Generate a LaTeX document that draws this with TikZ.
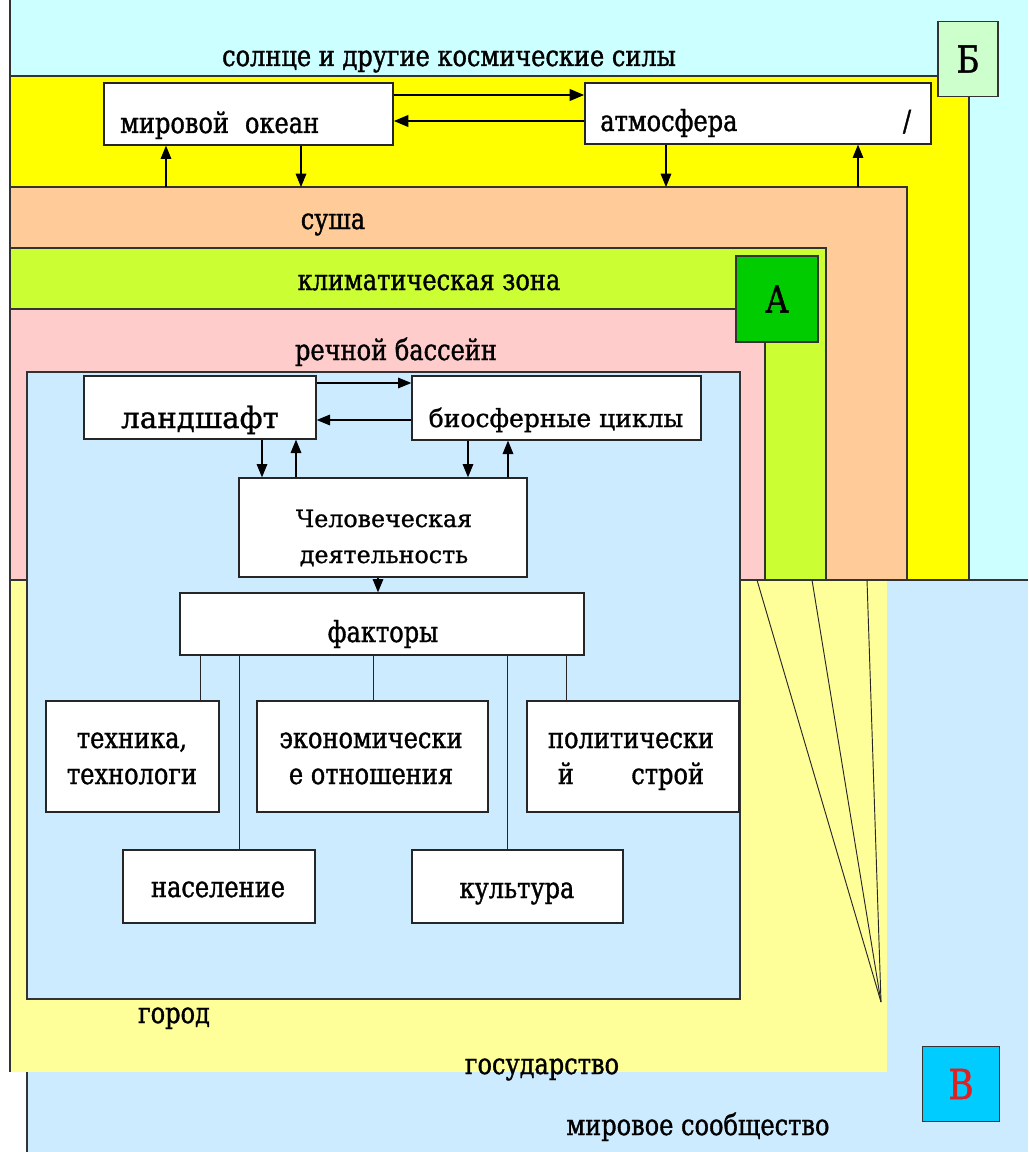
\documentclass[tikz,border=0pt]{standalone}
\usepackage{fontspec}
\setmainfont{DejaVu Serif}[FakeStretch=0.83, FakeBold=1.2]
\newfontfamily\widefont{DejaVu Serif}[FakeBold=1]
\usetikzlibrary{arrows.meta,positioning,fit}

\definecolor{skycyan}{HTML}{CCFFFF}
\definecolor{seayellow}{HTML}{FFFF00}
\definecolor{landorange}{HTML}{FFCC99}
\definecolor{climgreen}{HTML}{CCFF33}
\definecolor{riverpink}{HTML}{FFCCCC}
\definecolor{statepale}{HTML}{FFFF99}
\definecolor{worldblue}{HTML}{CCEBFF}
\definecolor{tagA}{HTML}{00CC00}
\definecolor{tagB}{HTML}{CCFFCC}
\definecolor{tagV}{HTML}{00CCFF}
\definecolor{letterred}{HTML}{DD2222}

\newcommand{\twoline}[2]{\begin{tabular}[t]{@{}c@{}}#1\\#2\end{tabular}}

\begin{document}
\begin{tikzpicture}[
    x=0.75pt, y=-0.75pt,
    every node/.style={font=\fontsize{21.75}{27}\selectfont, inner sep=0pt},
    box/.style={draw=black!85, fill=white, line width=1pt, inner sep=0pt},
    widetext/.style={font=\widefont\fontsize{18.75}{27}\selectfont},
    rim/.style={draw=black!80, line width=0.8pt},
    wire/.style={draw=black!85, line width=0.7pt},
    arr/.style={-{Triangle[length=10pt,width=8pt]}, line width=0.8pt},
    bigarr/.style={-{Triangle[length=11pt,width=8.5pt]}, line width=2.1pt},
    tag/.style={draw=black!80, line width=0.8pt, font=\fontsize{28}{32}\selectfont}
]

\useasboundingbox (0,0) rectangle (1028,1152);

% Nested regions
\fill[worldblue] (27,580) rectangle (1028,1152);
\fill[skycyan] (10,0) rectangle (1028,580);
\fill[seayellow] (10,76) rectangle (969,580);
\fill[landorange] (10,187) rectangle (907,580);
\fill[climgreen] (10,248) rectangle (826,580);
\fill[riverpink] (10,309) rectangle (765,580);
\fill[statepale] (10,580) rectangle (887,1072);

\draw[rim] (10,0) -- (10,1072);
\draw[rim] (10,76) -- (969,76) -- (969,580);
\draw[rim] (10,187) -- (907,187) -- (907,580);
\draw[rim] (10,248) -- (826,248) -- (826,580);
\draw[rim] (10,309) -- (765,309) -- (765,580);
\draw[rim] (10,580) -- (1028,580);
\draw[rim] (27,1072) -- (27,1152);

% Fan of lines in the state band
\coordinate (fan) at (881,1002);
\foreach \xx in {757,812,867} {
    \draw[wire] (\xx,580) -- (fan);
}

% City block
\filldraw[rim, fill=worldblue] (27,372) rectangle (740,999);

% Corner tags
\node[tag, fill=tagB, minimum width=45pt, minimum height=56pt] (tagb) at (968,59) {Б};
\node[tag, fill=tagA, minimum width=61.5pt, minimum height=64.5pt] (taga) at (777,299) {А};
\node[tag, fill=tagV, minimum width=58pt, minimum height=56pt, text=letterred,
      font=\fontsize{31}{34}\selectfont] (tagv) at (961,1084) {В};

% Region labels
\node[anchor=base] (sunlbl) at (449,66) {солнце и другие космические силы};
\node[anchor=base] (landlbl) at (333,229) {суша};
\node[anchor=base] (climlbl) at (429,290) {климатическая зона};
\node[anchor=base] (riverlbl) at (396,360) {речной бассейн};
\node[anchor=base] (citylbl) at (174,1023) {город};
\node[anchor=base] (statelbl) at (542,1074) {государство};
\node[anchor=base] (worldlbl) at (698,1135) {мировое сообщество};

% Ocean and atmosphere
\node[box, fit={(104,83) (393,145)}] (ocean) {};
\node[box, fit={(585,83) (931,144)}] (atmo) {};
\node[anchor=base west] (oceanlbl) at (120,133) {мировой\hspace{0.55em}океан};
\node[anchor=base west] (atmolbl) at (600,131) {атмосфера};
\node[anchor=base] (slash) at (907,131) {/};

\coordinate (oa-top) at (0,95);
\coordinate (oa-bot) at (0,121);
\draw[bigarr] (oa-top -| ocean.east) -- (oa-top -| atmo.west);
\draw[bigarr] (oa-bot -| atmo.west) -- (oa-bot -| ocean.east);

\coordinate (o-up) at (166,187);
\coordinate (o-dn) at (301,187);
\coordinate (a-dn) at (666,187);
\coordinate (a-up) at (858,187);
\draw[arr] (o-up) -- (o-up |- ocean.south);
\draw[arr] (o-dn |- ocean.south) -- (o-dn);
\draw[arr] (a-dn |- atmo.south) -- (a-dn);
\draw[arr] (a-up) -- (a-up |- atmo.south);

% Landscape, cycles, human activity
\node[box, fit={(84,376) (316,439)}] (landsc) {};
\node[box, fit={(412,376) (701,440)}] (biocyc) {};
\node[box, fit={(239,478) (527,577)}] (human) {};
\node[anchor=base, widetext, font=\widefont\fontsize{22}{27}\selectfont] (landsclbl) at (200,428) {ландшафт};
\node[anchor=base, widetext] (biocyclbl) at (556,427) {биосферные циклы};
\node[anchor=base, widetext, font=\widefont\fontsize{17.8}{27}\selectfont] (humanlbl) at (384,527) {\twoline{Человеческая}{деятельность}};

\coordinate (lb-top) at (0,383);
\coordinate (lb-bot) at (0,420);
\draw[arr] (lb-top -| landsc.east) -- (lb-top -| biocyc.west);
\draw[arr] (lb-bot -| biocyc.west) -- (lb-bot -| landsc.east);

\coordinate (c1) at (262,0);
\coordinate (c2) at (296,0);
\coordinate (c3) at (468,0);
\coordinate (c4) at (508,0);
\coordinate (c5) at (378,0);
\draw[arr] (c1 |- landsc.south) -- (c1 |- human.north);
\draw[arr] (c2 |- human.north) -- (c2 |- landsc.south);
\draw[arr] (c3 |- biocyc.south) -- (c3 |- human.north);
\draw[arr] (c4 |- human.north) -- (c4 |- biocyc.south);

% Factors
\node[box, fit={(180,593) (584,655)}] (factors) {};
\node[anchor=base] (factorslbl) at (383,642) {факторы};
\draw[arr] (c5 |- human.south) -- (c5 |- factors.north);

\node[box, fit={(46,701) (219,812)}] (tech) {};
\node[box, fit={(257,701) (488,812)}] (econ) {};
\node[box, fit={(527,701) (739,812)}] (polit) {};
\node[box, fit={(123,850) (315,923)}] (popul) {};
\node[box, fit={(412,850) (623,923)}] (cult) {};

\node[anchor=base] (techlbl) at (132,748) {\twoline{техника,}{технологи}};
\node[anchor=base] (econlbl) at (371,748) {\twoline{экономически}{е отношения}};
\node[anchor=base] (politlbl) at (631,748) {\twoline{политически}{й\hspace{43pt}строй}};
\node[anchor=base] (popullbl) at (218,897) {население};
\node[anchor=base] (cultlbl) at (517,898) {культура};

\foreach \xx/\dst in {200/tech, 239/popul, 373/econ, 507/cult, 566/polit} {
    \coordinate (w) at (\xx,0);
    \draw[wire] (w |- factors.south) -- (w |- \dst.north);
}

\end{tikzpicture}
\end{document}
